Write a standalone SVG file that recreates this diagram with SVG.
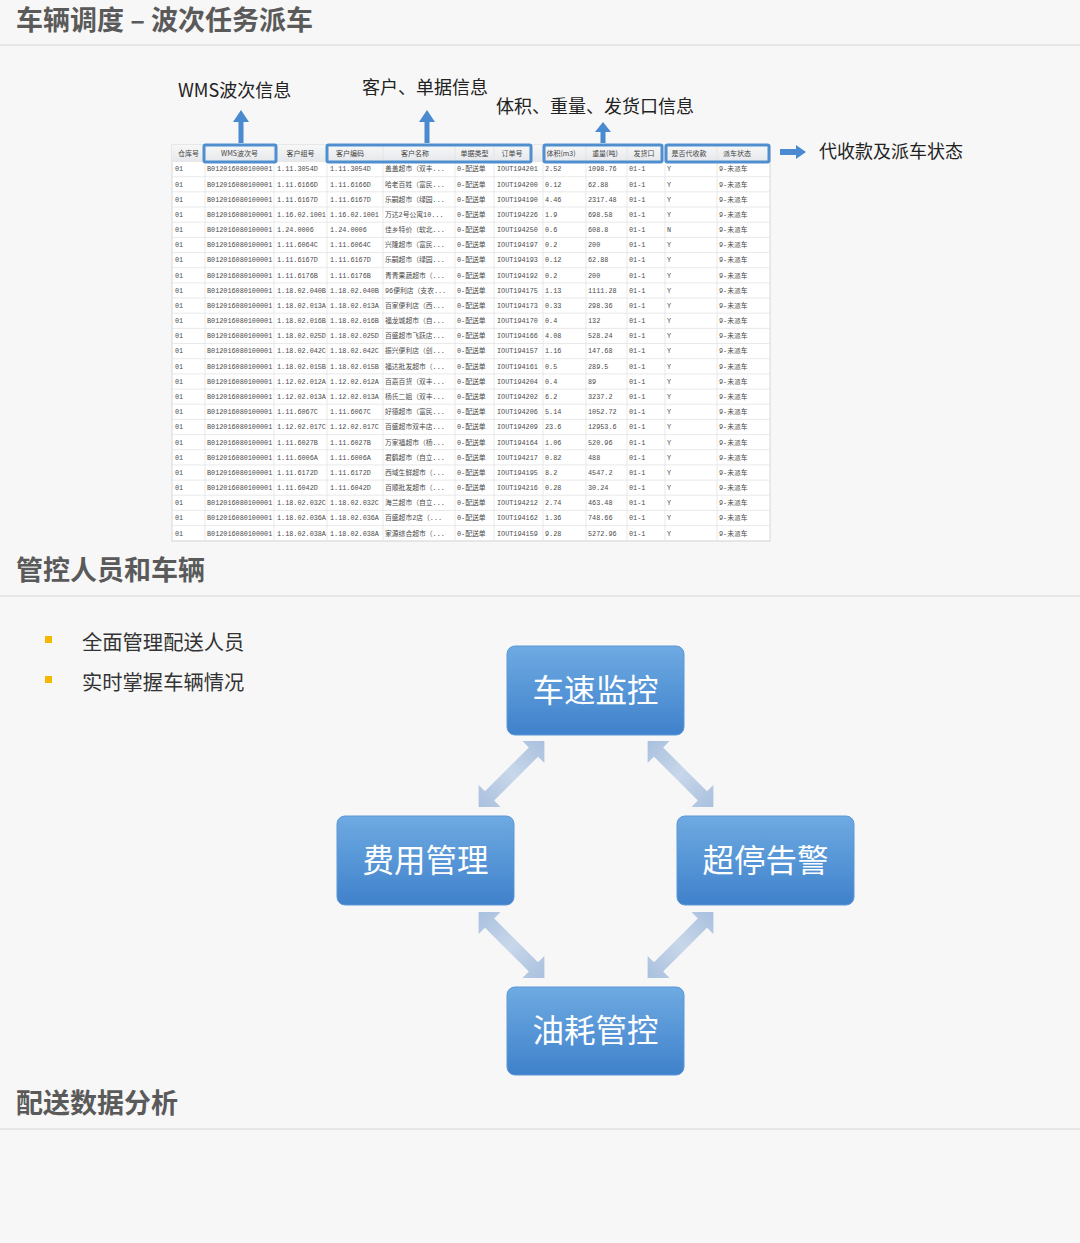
<svg xmlns="http://www.w3.org/2000/svg" width="1080" height="1243" viewBox="0 0 1080 1243">
<defs>
<style>
.title{font-family:"Noto Sans CJK SC","Noto Sans",sans-serif;font-weight:700;font-size:27px;fill:#5a5a5a}
.lbl{font-family:"Noto Sans CJK SC","Noto Sans",sans-serif;font-size:18px;fill:#222}
.bul{font-family:"Noto Sans CJK SC","Noto Sans",sans-serif;font-size:20.3px;fill:#333}
.th{font-family:"Noto Sans CJK SC",sans-serif;font-size:7px;fill:#444;text-anchor:middle}
.td{font-family:"Liberation Mono","Noto Sans CJK SC",monospace;font-size:6.8px;fill:#4a4a4a}
.ntext{font-family:"Noto Sans CJK SC","Noto Sans",sans-serif;font-size:31.5px;fill:#fff;text-anchor:middle}
.sep{stroke:#e2e2e2;stroke-width:1.5}
.hl{fill:none;stroke:#4f8fcf;stroke-width:3}
.barrow{fill:#4a8ad0}
.darrow{fill:url(#ag)}
</style>
<linearGradient id="ng" x1="0" y1="0" x2="0" y2="1">
<stop offset="0" stop-color="#6eaae2"/>
<stop offset="1" stop-color="#3f81cb"/>
</linearGradient>
<linearGradient id="hg" x1="0" y1="0" x2="0" y2="1">
<stop offset="0" stop-color="#f7f7f7"/>
<stop offset="1" stop-color="#e6e8ec"/>
</linearGradient>
<linearGradient id="ag" x1="-46" y1="0" x2="46" y2="0" gradientUnits="userSpaceOnUse">
<stop offset="0" stop-color="#a9c0de"/>
<stop offset="0.5" stop-color="#c8d7ea"/>
<stop offset="1" stop-color="#a9c0de"/>
</linearGradient>
<path id="dbl" d="M-46.5 0 L-31 -15.5 L-31 -6.5 L31 -6.5 L31 -15.5 L46.5 0 L31 15.5 L31 6.5 L-31 6.5 L-31 15.5 Z"/>
</defs>
<rect width="1080" height="1243" fill="#f7f7f7"/>

<!-- section titles -->
<g id="section1">
<text class="title" x="16" y="30">车辆调度 – 波次任务派车</text>
<line class="sep" x1="0" y1="45" x2="1080" y2="45"/>
</g>
<g id="section2">
<text class="title" x="16" y="580">管控人员和车辆</text>
<line class="sep" x1="0" y1="596" x2="1080" y2="596"/>
</g>
<g id="section3">
<text class="title" x="16" y="1113">配送数据分析</text>
<line class="sep" x1="0" y1="1129" x2="1080" y2="1129"/>
</g>

<!-- table -->
<g id="table">
<rect x="172" y="145" width="598" height="396" fill="#fff" stroke="#d8d8d8" stroke-width="1"/>
<rect x="172" y="145" width="598" height="16.5" fill="url(#hg)"/>
<path stroke="#e3e3e3" stroke-width="0.8" fill="none" d="M172 161.5H770M172 176.7H770M172 191.8H770M172 207H770M172 222.2H770M172 237.4H770M172 252.5H770M172 267.7H770M172 282.9H770M172 298H770M172 313.2H770M172 328.4H770M172 343.5H770M172 358.7H770M172 373.9H770M172 389.1H770M172 404.2H770M172 419.4H770M172 434.6H770M172 449.7H770M172 464.9H770M172 480.1H770M172 495.2H770M172 510.4H770M172 525.6H770M172 540.8H770"/>
<path stroke="#e3e3e3" stroke-width="0.8" fill="none" d="M205 145V541M274 145V541M327 145V541M383 145V541M455 145V541M494 145V541M543 145V541M586 145V541M627 145V541M665 145V541M717 145V541"/>
<g class="th">
<text x="188.5" y="155.5">仓库号</text>
<text x="239.5" y="155.5">WMS波次号</text>
<text x="300.5" y="155.5">客户组号</text>
<text x="350" y="155.5">客户编码</text>
<text x="415" y="155.5">客户名称</text>
<text x="474.5" y="155.5">单据类型</text>
<text x="512" y="155.5">订单号</text>
<text x="561" y="155.5">体积(m3)</text>
<text x="605" y="155.5">重量(吨)</text>
<text x="644" y="155.5">发货口</text>
<text x="689" y="155.5">是否代收款</text>
<text x="737" y="155.5">派车状态</text>
</g>
<g class="td">
<text y="171.4"><tspan x="175">01</tspan><tspan x="207">B012016080100001</tspan><tspan x="277">1.11.3054D</tspan><tspan x="330">1.11.3054D</tspan><tspan x="385">盖盖超市（双丰...</tspan><tspan x="457">0-配送单</tspan><tspan x="497">IOUT194201</tspan><tspan x="545">2.52</tspan><tspan x="588">1098.76</tspan><tspan x="629">01-1</tspan><tspan x="667">Y</tspan><tspan x="719">9-未派车</tspan></text>
<text y="186.6"><tspan x="175">01</tspan><tspan x="207">B012016080100001</tspan><tspan x="277">1.11.6166D</tspan><tspan x="330">1.11.6166D</tspan><tspan x="385">哈老百姓（富民...</tspan><tspan x="457">0-配送单</tspan><tspan x="497">IOUT194200</tspan><tspan x="545">0.12</tspan><tspan x="588">62.88</tspan><tspan x="629">01-1</tspan><tspan x="667">Y</tspan><tspan x="719">9-未派车</tspan></text>
<text y="201.7"><tspan x="175">01</tspan><tspan x="207">B012016080100001</tspan><tspan x="277">1.11.6167D</tspan><tspan x="330">1.11.6167D</tspan><tspan x="385">乐嗣超市（绿园...</tspan><tspan x="457">0-配送单</tspan><tspan x="497">IOUT194190</tspan><tspan x="545">4.46</tspan><tspan x="588">2317.48</tspan><tspan x="629">01-1</tspan><tspan x="667">Y</tspan><tspan x="719">9-未派车</tspan></text>
<text y="216.9"><tspan x="175">01</tspan><tspan x="207">B012016080100001</tspan><tspan x="277">1.16.02.1001</tspan><tspan x="330">1.16.02.1001</tspan><tspan x="385">万达2号公寓10...</tspan><tspan x="457">0-配送单</tspan><tspan x="497">IOUT194226</tspan><tspan x="545">1.9</tspan><tspan x="588">698.58</tspan><tspan x="629">01-1</tspan><tspan x="667">Y</tspan><tspan x="719">9-未派车</tspan></text>
<text y="232.1"><tspan x="175">01</tspan><tspan x="207">B012016080100001</tspan><tspan x="277">1.24.0006</tspan><tspan x="330">1.24.0006</tspan><tspan x="385">佳乡特价（软北...</tspan><tspan x="457">0-配送单</tspan><tspan x="497">IOUT194250</tspan><tspan x="545">0.6</tspan><tspan x="588">608.8</tspan><tspan x="629">01-1</tspan><tspan x="667">N</tspan><tspan x="719">9-未派车</tspan></text>
<text y="247.3"><tspan x="175">01</tspan><tspan x="207">B012016080100001</tspan><tspan x="277">1.11.6064C</tspan><tspan x="330">1.11.6064C</tspan><tspan x="385">兴隆超市（富民...</tspan><tspan x="457">0-配送单</tspan><tspan x="497">IOUT194197</tspan><tspan x="545">0.2</tspan><tspan x="588">200</tspan><tspan x="629">01-1</tspan><tspan x="667">Y</tspan><tspan x="719">9-未派车</tspan></text>
<text y="262.4"><tspan x="175">01</tspan><tspan x="207">B012016080100001</tspan><tspan x="277">1.11.6167D</tspan><tspan x="330">1.11.6167D</tspan><tspan x="385">乐嗣超市（绿园...</tspan><tspan x="457">0-配送单</tspan><tspan x="497">IOUT194193</tspan><tspan x="545">0.12</tspan><tspan x="588">62.88</tspan><tspan x="629">01-1</tspan><tspan x="667">Y</tspan><tspan x="719">9-未派车</tspan></text>
<text y="277.6"><tspan x="175">01</tspan><tspan x="207">B012016080100001</tspan><tspan x="277">1.11.6176B</tspan><tspan x="330">1.11.6176B</tspan><tspan x="385">青青果蔬超市（...</tspan><tspan x="457">0-配送单</tspan><tspan x="497">IOUT194192</tspan><tspan x="545">0.2</tspan><tspan x="588">200</tspan><tspan x="629">01-1</tspan><tspan x="667">Y</tspan><tspan x="719">9-未派车</tspan></text>
<text y="292.8"><tspan x="175">01</tspan><tspan x="207">B012016080100001</tspan><tspan x="277">1.18.02.040B</tspan><tspan x="330">1.18.02.040B</tspan><tspan x="385">96便利店（支农...</tspan><tspan x="457">0-配送单</tspan><tspan x="497">IOUT194175</tspan><tspan x="545">1.13</tspan><tspan x="588">1111.28</tspan><tspan x="629">01-1</tspan><tspan x="667">Y</tspan><tspan x="719">9-未派车</tspan></text>
<text y="307.9"><tspan x="175">01</tspan><tspan x="207">B012016080100001</tspan><tspan x="277">1.18.02.013A</tspan><tspan x="330">1.18.02.013A</tspan><tspan x="385">百家便利店（西...</tspan><tspan x="457">0-配送单</tspan><tspan x="497">IOUT194173</tspan><tspan x="545">0.33</tspan><tspan x="588">298.36</tspan><tspan x="629">01-1</tspan><tspan x="667">Y</tspan><tspan x="719">9-未派车</tspan></text>
<text y="323.1"><tspan x="175">01</tspan><tspan x="207">B012016080100001</tspan><tspan x="277">1.18.02.016B</tspan><tspan x="330">1.18.02.016B</tspan><tspan x="385">福龙城超市（自...</tspan><tspan x="457">0-配送单</tspan><tspan x="497">IOUT194170</tspan><tspan x="545">0.4</tspan><tspan x="588">132</tspan><tspan x="629">01-1</tspan><tspan x="667">Y</tspan><tspan x="719">9-未派车</tspan></text>
<text y="338.3"><tspan x="175">01</tspan><tspan x="207">B012016080100001</tspan><tspan x="277">1.18.02.025D</tspan><tspan x="330">1.18.02.025D</tspan><tspan x="385">百盛超市飞跃店...</tspan><tspan x="457">0-配送单</tspan><tspan x="497">IOUT194166</tspan><tspan x="545">4.08</tspan><tspan x="588">528.24</tspan><tspan x="629">01-1</tspan><tspan x="667">Y</tspan><tspan x="719">9-未派车</tspan></text>
<text y="353.4"><tspan x="175">01</tspan><tspan x="207">B012016080100001</tspan><tspan x="277">1.18.02.042C</tspan><tspan x="330">1.18.02.042C</tspan><tspan x="385">振兴便利店（创...</tspan><tspan x="457">0-配送单</tspan><tspan x="497">IOUT194157</tspan><tspan x="545">1.16</tspan><tspan x="588">147.68</tspan><tspan x="629">01-1</tspan><tspan x="667">Y</tspan><tspan x="719">9-未派车</tspan></text>
<text y="368.6"><tspan x="175">01</tspan><tspan x="207">B012016080100001</tspan><tspan x="277">1.18.02.015B</tspan><tspan x="330">1.18.02.015B</tspan><tspan x="385">福达批发超市（...</tspan><tspan x="457">0-配送单</tspan><tspan x="497">IOUT194161</tspan><tspan x="545">0.5</tspan><tspan x="588">289.5</tspan><tspan x="629">01-1</tspan><tspan x="667">Y</tspan><tspan x="719">9-未派车</tspan></text>
<text y="383.8"><tspan x="175">01</tspan><tspan x="207">B012016080100001</tspan><tspan x="277">1.12.02.012A</tspan><tspan x="330">1.12.02.012A</tspan><tspan x="385">百嘉百货（双丰...</tspan><tspan x="457">0-配送单</tspan><tspan x="497">IOUT194204</tspan><tspan x="545">0.4</tspan><tspan x="588">89</tspan><tspan x="629">01-1</tspan><tspan x="667">Y</tspan><tspan x="719">9-未派车</tspan></text>
<text y="399"><tspan x="175">01</tspan><tspan x="207">B012016080100001</tspan><tspan x="277">1.12.02.013A</tspan><tspan x="330">1.12.02.013A</tspan><tspan x="385">杨氏二姐（双丰...</tspan><tspan x="457">0-配送单</tspan><tspan x="497">IOUT194202</tspan><tspan x="545">6.2</tspan><tspan x="588">3237.2</tspan><tspan x="629">01-1</tspan><tspan x="667">Y</tspan><tspan x="719">9-未派车</tspan></text>
<text y="414.1"><tspan x="175">01</tspan><tspan x="207">B012016080100001</tspan><tspan x="277">1.11.6067C</tspan><tspan x="330">1.11.6067C</tspan><tspan x="385">好德超市（富民...</tspan><tspan x="457">0-配送单</tspan><tspan x="497">IOUT194206</tspan><tspan x="545">5.14</tspan><tspan x="588">1052.72</tspan><tspan x="629">01-1</tspan><tspan x="667">Y</tspan><tspan x="719">9-未派车</tspan></text>
<text y="429.3"><tspan x="175">01</tspan><tspan x="207">B012016080100001</tspan><tspan x="277">1.12.02.017C</tspan><tspan x="330">1.12.02.017C</tspan><tspan x="385">百盛超市双丰店...</tspan><tspan x="457">0-配送单</tspan><tspan x="497">IOUT194209</tspan><tspan x="545">23.6</tspan><tspan x="588">12953.6</tspan><tspan x="629">01-1</tspan><tspan x="667">Y</tspan><tspan x="719">9-未派车</tspan></text>
<text y="444.5"><tspan x="175">01</tspan><tspan x="207">B012016080100001</tspan><tspan x="277">1.11.6027B</tspan><tspan x="330">1.11.6027B</tspan><tspan x="385">万家福超市（杨...</tspan><tspan x="457">0-配送单</tspan><tspan x="497">IOUT194164</tspan><tspan x="545">1.06</tspan><tspan x="588">520.96</tspan><tspan x="629">01-1</tspan><tspan x="667">Y</tspan><tspan x="719">9-未派车</tspan></text>
<text y="459.6"><tspan x="175">01</tspan><tspan x="207">B012016080100001</tspan><tspan x="277">1.11.6006A</tspan><tspan x="330">1.11.6006A</tspan><tspan x="385">君鹤超市（自立...</tspan><tspan x="457">0-配送单</tspan><tspan x="497">IOUT194217</tspan><tspan x="545">0.82</tspan><tspan x="588">488</tspan><tspan x="629">01-1</tspan><tspan x="667">Y</tspan><tspan x="719">9-未派车</tspan></text>
<text y="474.8"><tspan x="175">01</tspan><tspan x="207">B012016080100001</tspan><tspan x="277">1.11.6172D</tspan><tspan x="330">1.11.6172D</tspan><tspan x="385">西域生鲜超市（...</tspan><tspan x="457">0-配送单</tspan><tspan x="497">IOUT194195</tspan><tspan x="545">8.2</tspan><tspan x="588">4547.2</tspan><tspan x="629">01-1</tspan><tspan x="667">Y</tspan><tspan x="719">9-未派车</tspan></text>
<text y="490"><tspan x="175">01</tspan><tspan x="207">B012016080100001</tspan><tspan x="277">1.11.6042D</tspan><tspan x="330">1.11.6042D</tspan><tspan x="385">百顺批发超市（...</tspan><tspan x="457">0-配送单</tspan><tspan x="497">IOUT194216</tspan><tspan x="545">0.28</tspan><tspan x="588">30.24</tspan><tspan x="629">01-1</tspan><tspan x="667">Y</tspan><tspan x="719">9-未派车</tspan></text>
<text y="505.1"><tspan x="175">01</tspan><tspan x="207">B012016080100001</tspan><tspan x="277">1.18.02.032C</tspan><tspan x="330">1.18.02.032C</tspan><tspan x="385">海兰超市（自立...</tspan><tspan x="457">0-配送单</tspan><tspan x="497">IOUT194212</tspan><tspan x="545">2.74</tspan><tspan x="588">463.48</tspan><tspan x="629">01-1</tspan><tspan x="667">Y</tspan><tspan x="719">9-未派车</tspan></text>
<text y="520.3"><tspan x="175">01</tspan><tspan x="207">B012016080100001</tspan><tspan x="277">1.18.02.036A</tspan><tspan x="330">1.18.02.036A</tspan><tspan x="385">百盛超市2店（...</tspan><tspan x="457">0-配送单</tspan><tspan x="497">IOUT194162</tspan><tspan x="545">1.36</tspan><tspan x="588">748.66</tspan><tspan x="629">01-1</tspan><tspan x="667">Y</tspan><tspan x="719">9-未派车</tspan></text>
<text y="535.5"><tspan x="175">01</tspan><tspan x="207">B012016080100001</tspan><tspan x="277">1.18.02.038A</tspan><tspan x="330">1.18.02.038A</tspan><tspan x="385">家源综合超市（...</tspan><tspan x="457">0-配送单</tspan><tspan x="497">IOUT194159</tspan><tspan x="545">9.28</tspan><tspan x="588">5272.96</tspan><tspan x="629">01-1</tspan><tspan x="667">Y</tspan><tspan x="719">9-未派车</tspan></text>
</g>
<rect class="hl" x="204" y="145" width="72" height="17" rx="1.5"/>
<rect class="hl" x="327" y="145" width="204" height="17" rx="1.5"/>
<rect class="hl" x="544" y="145" width="118" height="17" rx="1.5"/>
<rect class="hl" x="666" y="145" width="103" height="17" rx="1.5"/>
</g>

<!-- table annotations -->
<g id="annotations">
<text class="lbl" x="178" y="97" font-size="19">WMS波次信息</text>
<text class="lbl" x="362" y="94">客户、单据信息</text>
<text class="lbl" x="496" y="113">体积、重量、发货口信息</text>
<text class="lbl" x="819" y="158">代收款及派车状态</text>
<path class="barrow" d="M241 110 L249 122 L243.5 122 L243.5 143 L238.5 143 L238.5 122 L233 122 Z"/>
<path class="barrow" d="M427 110 L435 122 L429.5 122 L429.5 143 L424.5 143 L424.5 122 L419 122 Z"/>
<path class="barrow" d="M603 122 L611 132 L605.5 132 L605.5 143 L600.5 143 L600.5 132 L595 132 Z"/>
<path class="barrow" d="M780 149 L796 149 L796 145 L806 152 L796 159 L796 155 L780 155 Z"/>
</g>

<!-- bullets -->
<g id="bullets">
<rect x="45" y="636" width="7" height="7" fill="#f5b800"/>
<text class="bul" x="82" y="650">全面管理配送人员</text>
<rect x="45" y="676" width="7" height="7" fill="#f5b800"/>
<text class="bul" x="82" y="690">实时掌握车辆情况</text>
</g>

<!-- connectors -->
<g id="connectors">
<use href="#dbl" class="darrow" transform="translate(511.5 774) rotate(-45)"/>
<use href="#dbl" class="darrow" transform="translate(680.5 774) rotate(45)"/>
<use href="#dbl" class="darrow" transform="translate(511.5 945) rotate(45)"/>
<use href="#dbl" class="darrow" transform="translate(680.5 945) rotate(-45)"/>
</g>

<!-- nodes -->
<g id="node-speed">
<rect x="507" y="646" width="177" height="89" rx="8" fill="url(#ng)" stroke="#5d97d6" stroke-width="1"/>
<text class="ntext" x="595.5" y="702">车速监控</text>
</g>
<g id="node-cost">
<rect x="337" y="816" width="177" height="89" rx="8" fill="url(#ng)" stroke="#5d97d6" stroke-width="1"/>
<text class="ntext" x="425.5" y="872">费用管理</text>
</g>
<g id="node-stop">
<rect x="677" y="816" width="177" height="89" rx="8" fill="url(#ng)" stroke="#5d97d6" stroke-width="1"/>
<text class="ntext" x="765.5" y="872">超停告警</text>
</g>
<g id="node-fuel">
<rect x="507" y="987" width="177" height="88" rx="8" fill="url(#ng)" stroke="#5d97d6" stroke-width="1"/>
<text class="ntext" x="595.5" y="1042">油耗管控</text>
</g>
</svg>
